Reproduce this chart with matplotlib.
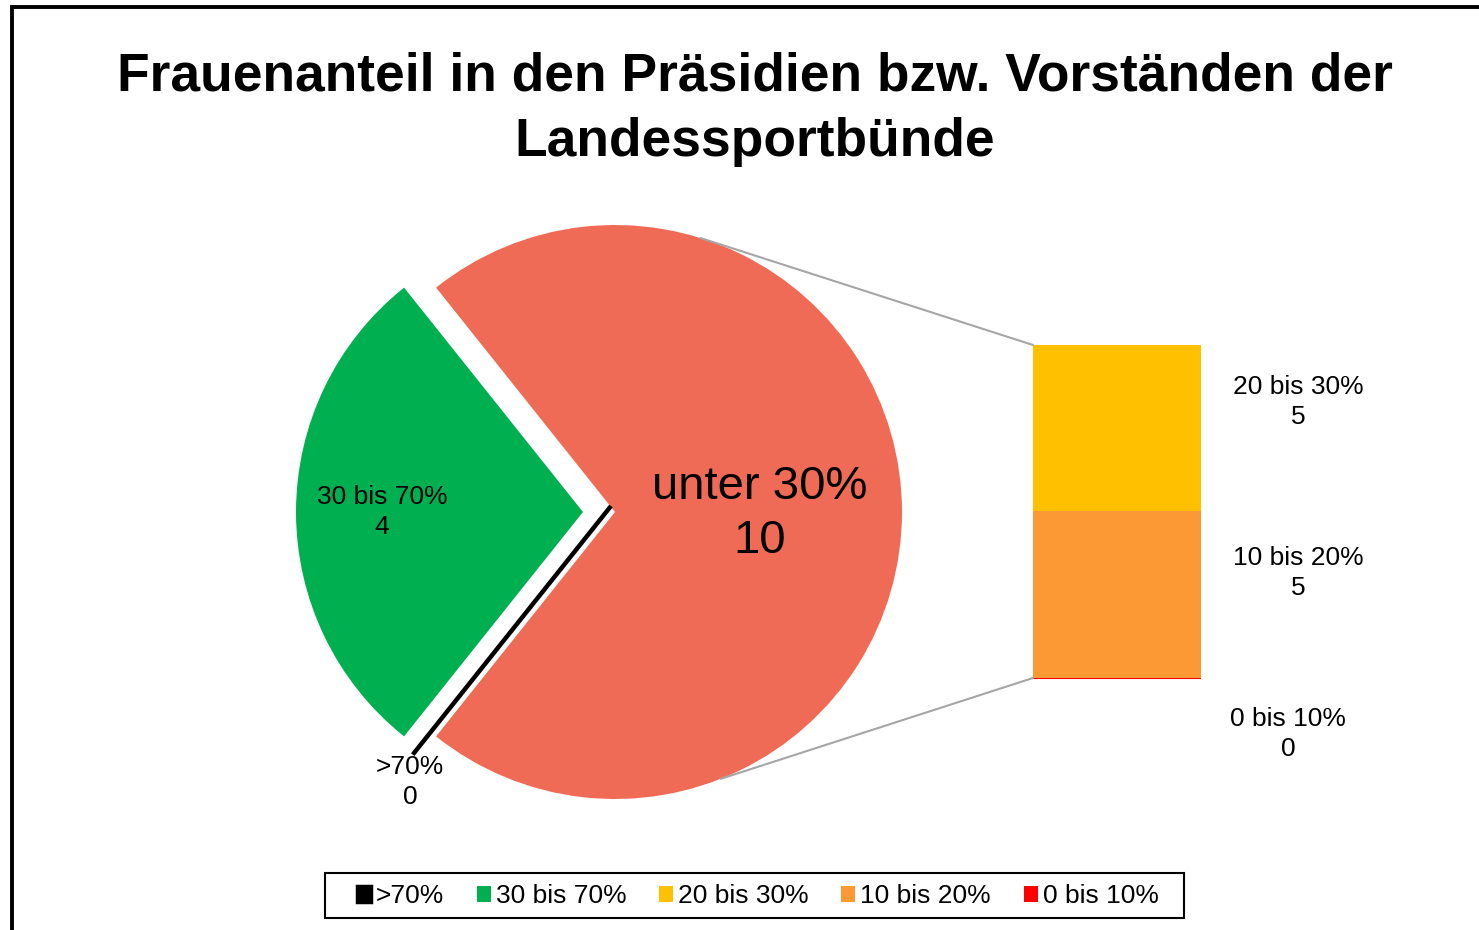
import numpy as np
import matplotlib.pyplot as plt
from matplotlib.patches import Patch, Rectangle, ConnectionPatch

plt.rcParams['font.family'] = ['Liberation Sans', 'DejaVu Sans']

title = "Frauenanteil in den Präsidien bzw. Vorständen der\nLandessportbünde"

# main pie
pie_labels = ['>70%', '30 bis 70%', 'unter 30%']
pie_values = [0, 4, 10]
pie_colors = ['#000000', '#00B050', '#F06B55']

# bar of pie (split of "unter 30%")
bar_labels = ['0 bis 10%', '10 bis 20%', '20 bis 30%']
bar_values = [0, 5, 5]
bar_colors = ['#FF0000', '#FD9935', '#FFC000']

legend_order = ['>70%', '30 bis 70%', '20 bis 30%', '10 bis 20%', '0 bis 10%']

W, H = 1479, 930
fig = plt.figure(figsize=(W / 100, H / 100), dpi=100)

ax = fig.add_axes([0, 0, 1, 1])

cx, cy, r = 615, H - 512, 287
start = 360 * (pie_values[0] + pie_values[1]) / sum(pie_values) / 2 + 180
# explode is given in data units (pixels here)
wedges, _ = ax.pie(pie_values, colors=pie_colors, center=(cx, cy), radius=r,
                   startangle=start, counterclock=False,
                   explode=[0, 32, 0], frame=True)
ax.set_xlim(0, W)
ax.set_ylim(0, H)
ax.set_aspect('auto')
ax.axis('off')

# zero slice drawn as a black line
zero = wedges[0]
zero.set_center((cx - 4, cy + 6))
zero.set_radius(318)
zero.set_edgecolor('#000000')
zero.set_linewidth(3.2)
zero.set_zorder(5)

lab_fs = 19
ax.text(382, H - 512, f"{pie_labels[1]}\n{pie_values[1]}", ha='center', va='center',
        fontsize=lab_fs, linespacing=1.35)
ax.text(410, H - 782, f"{pie_labels[0]}\n{pie_values[0]}", ha='center', va='center',
        fontsize=lab_fs, linespacing=1.35)
ax.text(760, H - 514, f"{pie_labels[2]}\n{pie_values[2]}", ha='center', va='center',
        fontsize=34, linespacing=1.28)

# stacked bar
bx0, bx1, by0, by1 = 1033, 1201, 678, 345
ax2 = fig.add_axes([bx0 / W, (H - by0) / H, (bx1 - bx0) / W, (by0 - by1) / H])
bottom = 0
for lab, val, col in zip(bar_labels, bar_values, bar_colors):
    if val == 0:
        ax2.bar(0, val, bottom=bottom, width=1, color=col, edgecolor=col,
                linewidth=1.5, clip_on=False)
    else:
        ax2.bar(0, val, bottom=bottom, width=1, color=col, linewidth=0)
    bottom += val
ax2.set_xlim(-0.5, 0.5)
ax2.set_ylim(0, sum(bar_values))
ax2.axis('off')

bar_text_pos = {'20 bis 30%': (1298, 402), '10 bis 20%': (1298, 573), '0 bis 10%': (1288, 734)}
for lab, val in zip(bar_labels, bar_values):
    x, y = bar_text_pos[lab]
    ax.text(x, H - y, f"{lab}\n{val}", ha='center', va='center',
            fontsize=lab_fs, linespacing=1.35)

# connector lines
for ang, yb in [(72.7, sum(bar_values)), (-68.4, 0)]:
    pa = (cx + r * np.cos(np.radians(ang)), cy + r * np.sin(np.radians(ang)))
    con = ConnectionPatch(xyA=pa, coordsA=ax.transData, xyB=(-0.5, yb),
                          coordsB=ax2.transData, color='#A6A6A6', linewidth=1.5)
    fig.add_artist(con)

fig.text(755 / W, 1 - 109 / H, title, ha='center', va='center', fontsize=38.4,
         fontweight='bold', linespacing=1.4)

# chart border (partially outside the picture)
fig.add_artist(Rectangle((12 / W, -0.1), 1.2, 1 - 7 / H + 0.1, transform=fig.transFigure,
                         fill=False, edgecolor='black', linewidth=2.8))

# legend with its own frame
all_colors = dict(zip(pie_labels + bar_labels, pie_colors + bar_colors))
handles = []
for l in legend_order:
    if all_colors[l] == '#000000':
        handles.append(Patch(facecolor='#000000', edgecolor='#000000', linewidth=2.5, label=l))
    else:
        handles.append(Patch(facecolor=all_colors[l], edgecolor='none', label=l))
fig.legend(handles=handles, loc='center', bbox_to_anchor=(757.5 / W, 1 - 896 / H),
           ncol=5, fontsize=19, frameon=False, handlelength=0.53, handleheight=0.55,
           handletextpad=0.19, columnspacing=1.24, borderpad=0.2)
fig.add_artist(Rectangle((325 / W, 1 - 918 / H), (1184 - 325) / W, 45 / H,
                         transform=fig.transFigure, fill=False, edgecolor='black',
                         linewidth=1.5))

fig.savefig('out.png', dpi=100)
